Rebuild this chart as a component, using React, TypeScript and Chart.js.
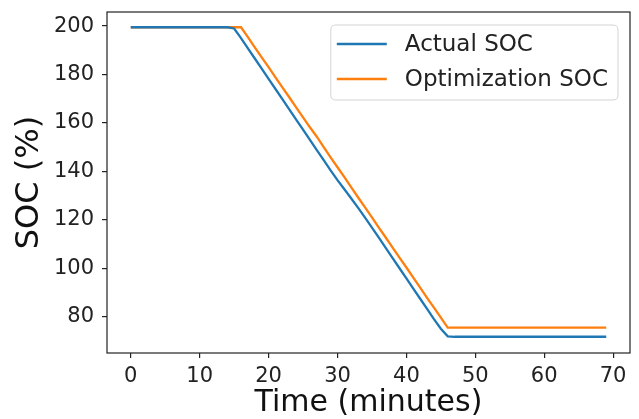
import React, { useEffect, useRef } from "react";
import { Chart, registerables } from "chart.js";

Chart.register(...registerables);

const minutes = [
  0, 1, 2, 3, 4, 5, 6, 7, 8, 9, 10, 11, 12, 13, 14, 15, 16, 17, 18, 19,
  20, 21, 22, 23, 24, 25, 26, 27, 28, 29, 30, 31, 32, 33, 34, 35, 36, 37, 38, 39,
  40, 41, 42, 43, 44, 45, 46, 47, 48, 49, 50, 51, 52, 53, 54, 55, 56, 57, 58, 59,
  60, 61, 62, 63, 64, 65, 66, 67, 68, 69,
];

const actualSoc = [
  199.5, 199.5, 199.5, 199.5, 199.5, 199.5, 199.5, 199.5, 199.5, 199.5,
  199.5, 199.5, 199.5, 199.5, 199.5, 199.0, 195.0, 190.8, 186.6, 182.4,
  178.2, 174.0, 169.8, 165.6, 161.4, 157.2, 153.0, 148.8, 144.6, 140.4,
  136.4, 132.6, 128.8, 124.9, 120.9, 116.8, 112.6, 108.4, 104.2, 100.0,
  95.8, 91.6, 87.4, 83.2, 79.0, 75.0, 71.9, 71.7, 71.7, 71.7,
  71.7, 71.7, 71.7, 71.7, 71.7, 71.7, 71.7, 71.7, 71.7, 71.7,
  71.7, 71.7, 71.7, 71.7, 71.7, 71.7, 71.7, 71.7, 71.7, 71.7,
];

const optimizationSoc = [
  199.5, 199.5, 199.5, 199.5, 199.5, 199.5, 199.5, 199.5, 199.5, 199.5,
  199.5, 199.5, 199.5, 199.5, 199.5, 199.5, 199.5, 195.4, 191.2, 187.1,
  183.0, 178.8, 174.7, 170.6, 166.4, 162.3, 158.2, 154.3, 150.0, 145.8,
  141.7, 137.6, 133.4, 129.2, 125.1, 121.0, 116.8, 112.7, 108.5, 104.4,
  100.3, 96.1, 92.0, 87.8, 83.7, 79.6, 75.5, 75.5, 75.5, 75.5,
  75.5, 75.5, 75.5, 75.5, 75.5, 75.5, 75.5, 75.5, 75.5, 75.5,
  75.5, 75.5, 75.5, 75.5, 75.5, 75.5, 75.5, 75.5, 75.5, 75.5,
];

const seriesLabels = ["Actual SOC", "Optimization SOC"];
const xTicks = [0, 10, 20, 30, 40, 50, 60, 70];
const yTicks = [80, 100, 120, 140, 160, 180, 200];
const xTitle = "Time (minutes)";
const yTitle = "SOC (%)";

const FONT = '"DejaVu Sans", "Liberation Sans", sans-serif';
const BLUE = "#1f77b4";
const ORANGE = "#ff7f0e";

const framePlugin = {
  id: "mplFrame",
  afterDraw(chart: any) {
    const { ctx, chartArea: a } = chart;
    ctx.save();
    ctx.strokeStyle = "#222";
    ctx.lineWidth = 1.2;
    ctx.strokeRect(a.left, a.top, a.right - a.left, a.bottom - a.top);
    ctx.restore();
  },
};

const legendPlugin = {
  id: "mplLegend",
  afterDraw(chart: any) {
    const { ctx, chartArea: a } = chart;
    const ds = chart.data.datasets;
    ctx.save();
    ctx.font = `23px ${FONT}`;
    const textW = Math.max(...ds.map((d: any) => ctx.measureText(d.label).width));
    const padL = 6;
    const handle = 50;
    const gap = 18;
    const padR = 10;
    const w = padL + handle + gap + textW + padR;
    const h = 75;
    const right = a.right - 12;
    const top = a.top + 13;
    const left = right - w;
    const r = 5;
    ctx.beginPath();
    ctx.moveTo(left + r, top);
    ctx.lineTo(right - r, top);
    ctx.quadraticCurveTo(right, top, right, top + r);
    ctx.lineTo(right, top + h - r);
    ctx.quadraticCurveTo(right, top + h, right - r, top + h);
    ctx.lineTo(left + r, top + h);
    ctx.quadraticCurveTo(left, top + h, left, top + h - r);
    ctx.lineTo(left, top + r);
    ctx.quadraticCurveTo(left, top, left + r, top);
    ctx.closePath();
    ctx.fillStyle = "rgba(255,255,255,0.8)";
    ctx.fill();
    ctx.strokeStyle = "#d3d3d3";
    ctx.lineWidth = 1;
    ctx.stroke();
    ds.forEach((d: any, i: number) => {
      const y = top + 19 + i * 35;
      ctx.beginPath();
      ctx.strokeStyle = d.borderColor;
      ctx.lineWidth = 2.3;
      ctx.moveTo(left + padL, y);
      ctx.lineTo(left + padL + handle, y);
      ctx.stroke();
      ctx.fillStyle = "#222";
      ctx.textBaseline = "middle";
      ctx.textAlign = "left";
      ctx.fillText(d.label, left + padL + handle + gap, y + 1);
    });
    ctx.restore();
  },
};

export default function App() {
  const ref = useRef<HTMLCanvasElement | null>(null);

  useEffect(() => {
    document.body.style.margin = "0";
    const canvas = ref.current;
    if (!canvas) return;
    const chart = new Chart(canvas, {
      type: "line",
      data: {
        datasets: [
          {
            label: seriesLabels[0],
            data: minutes.map((m, i) => ({ x: m, y: actualSoc[i] })),
            borderColor: BLUE,
            backgroundColor: BLUE,
            borderWidth: 2.3,
            pointRadius: 0,
            tension: 0,
          },
          {
            label: seriesLabels[1],
            data: minutes.map((m, i) => ({ x: m, y: optimizationSoc[i] })),
            borderColor: ORANGE,
            backgroundColor: ORANGE,
            borderWidth: 2.3,
            pointRadius: 0,
            tension: 0,
          },
        ],
      },
      options: {
        animation: false,
        responsive: false,
        maintainAspectRatio: false,
        devicePixelRatio: 1,
        layout: { padding: { left: 0, right: 9, top: 12, bottom: 0 } },
        plugins: {
          legend: { display: false },
          tooltip: { enabled: false },
        },
        scales: {
          x: {
            type: "linear",
            min: -3.45,
            max: 72.45,
            afterBuildTicks: (s: any) => {
              s.ticks = xTicks.map((v) => ({ value: v }));
            },
            afterFit: (s: any) => {
              s.height = 66;
              s.paddingLeft = 0;
              s.paddingRight = 0;
            },
            grid: {
              drawOnChartArea: false,
              drawTicks: true,
              tickLength: 5,
              tickColor: "#222",
              lineWidth: 1.2,
            },
            border: { display: false },
            ticks: {
              color: "#222",
              padding: 6,
              maxRotation: 0,
              font: { family: FONT, size: 21 },
            },
            title: {
              display: true,
              text: xTitle,
              color: "#111",
              font: { family: FONT, size: 30, lineHeight: 1 },
              padding: { top: 0, bottom: 1 },
            },
          },
          y: {
            type: "linear",
            min: 65.0,
            max: 205.8,
            afterBuildTicks: (s: any) => {
              s.ticks = yTicks.map((v) => ({ value: v }));
            },
            afterFit: (s: any) => {
              s.width = 107;
              s.paddingTop = 0;
              s.paddingBottom = 0;
            },
            grid: {
              drawOnChartArea: false,
              drawTicks: true,
              tickLength: 5,
              tickColor: "#222",
              lineWidth: 1.2,
            },
            border: { display: false },
            ticks: {
              color: "#222",
              padding: 8,
              font: { family: FONT, size: 21 },
            },
            title: {
              display: true,
              text: yTitle,
              color: "#111",
              font: { family: FONT, size: 32, lineHeight: 1 },
              padding: { top: 14, bottom: 0 },
            },
          },
        },
      },
      plugins: [framePlugin, legendPlugin],
    });
    return () => chart.destroy();
  }, []);

  return <canvas ref={ref} width={639} height={419} style={{ display: "block" }} />;
}
